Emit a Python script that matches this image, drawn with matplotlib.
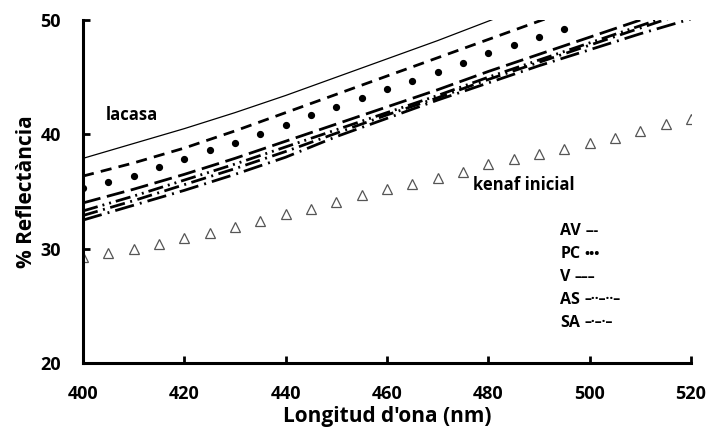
import numpy as np
import matplotlib
matplotlib.use("Agg")
import matplotlib.pyplot as plt

plt.rcParams['font.family'] = ['Open Sans', 'DejaVu Sans']

# wavelengths (nm)
wl_line = [400, 410, 420, 430, 440, 450, 460, 470, 480, 490, 500, 510, 520]
wl_mark = list(range(400, 525, 5))

# reflectance (%) for each treatment
lacasa = [37.9, 39.2, 40.5, 41.9, 43.4, 45.0, 46.6, 48.2, 49.9, 51.6, 53.3, 55.0, 56.7]
v = [36.35, 37.5, 38.8, 40.3, 41.9, 43.5, 45.1, 46.7, 48.3, 49.9, 51.5, 53.1, 54.7]
av = [34.0, 35.2, 36.5, 37.9, 39.4, 40.9, 42.4, 43.9, 45.5, 47.0, 48.5, 50.0, 51.5]
as_ = [33.3, 34.6, 36.0, 37.4, 38.9, 40.4, 41.9, 43.4, 45.0, 46.5, 48.0, 49.5, 51.0]
sa = [32.9, 34.2, 35.6, 37.0, 38.5, 40.1, 41.7, 43.2, 44.8, 46.3, 47.8, 49.3, 50.8]
sa_b = [32.5, 33.8, 35.1, 36.5, 38.0, 39.8, 41.4, 43.0, 44.5, 46.0, 47.4, 48.8, 50.1]
pc = [35.3, 35.85, 36.4, 37.1, 37.8, 38.6, 39.27, 40.03, 40.84, 41.65, 42.36,
      43.2, 43.94, 44.69, 45.48, 46.27, 47.08, 47.84, 48.49, 49.21]
kenaf = [29.3, 29.6, 30.0, 30.4, 30.9, 31.4, 31.9, 32.4, 33.0, 33.5, 34.1, 34.7,
         35.2, 35.7, 36.15, 36.73, 37.37, 37.8, 38.25, 38.74, 39.2, 39.7, 40.3,
         40.87, 41.35]

legend_names = ['AV', 'PC', 'V', 'AS', 'SA']
legend_marks = ['---', '\u2022\u2022\u2022', '\u2013\u2013\u2013',
                '\u2013\u00b7\u00b7\u2013\u00b7\u00b7\u2013', '\u2013\u00b7\u2013\u00b7\u2013']

fig = plt.figure(figsize=(7.1, 4.45), dpi=100)
ax = fig.add_axes([0.1169, 0.1843, 0.8563, 0.7707])

lw = 2.0
ax.plot(wl_line, lacasa, color='black', lw=0.9)
ax.plot(wl_line, v, color='black', lw=lw, dashes=(4.0, 2.6))
ax.plot(wl_line, av, color='black', lw=lw, dashes=(6.5, 2.4))
ax.plot(wl_line, as_, color='black', lw=lw, dashes=(5.5, 1.8, 0.7, 1.8, 0.7, 1.8))
ax.plot(wl_line, sa, color='black', lw=lw, dashes=(5.5, 2.0, 0.7, 2.0))
ax.plot(wl_line, sa_b, color='black', lw=lw, dashes=(7.0, 2.2, 0.7, 2.2))
ax.plot(wl_mark[:len(pc)], pc, ls='none', marker='o', ms=4.2, color='black')
ax.plot(wl_mark, kenaf, ls='none', marker='^', ms=7.5, mfc='none',
        mec='#555555', mew=0.9)

ax.set_xlim(400, 520)
ax.set_ylim(20, 50)
ax.set_xticks(np.arange(400, 521, 20))
ax.set_yticks([20, 30, 40, 50])

for s in ['top', 'right']:
    ax.spines[s].set_visible(False)
for s in ['left', 'bottom']:
    ax.spines[s].set_linewidth(2.2)
ax.tick_params(direction='in', length=5, width=2, labelsize=13)
ax.tick_params(axis='x', pad=16)
ax.tick_params(axis='y', pad=16)
for lab in ax.get_xticklabels() + ax.get_yticklabels():
    lab.set_fontweight('bold')

ax.set_xlabel("Longitud d'ona (nm)", fontsize=15, fontweight='bold', labelpad=2)
ax.set_ylabel('% Reflectància', fontsize=15, fontweight='bold', labelpad=2)

ax.text(404.5, 41.7, 'lacasa', fontsize=12, fontweight='bold', va='center')
ax.text(477, 35.6, 'kenaf inicial', fontsize=12, fontweight='bold', va='center')

for i, (name, mk) in enumerate(zip(legend_names, legend_marks)):
    y = 0.385 - i * 0.067
    t = ax.text(0.785, y, name, transform=ax.transAxes, fontsize=11.5,
                fontweight='bold', va='center')
    ax.annotate(mk, xy=(1, 0), xycoords=t, xytext=(3, 1),
                textcoords='offset points', fontsize=10, fontweight='bold',
                va='bottom', ha='left')

fig.savefig('out.png', dpi=100)
